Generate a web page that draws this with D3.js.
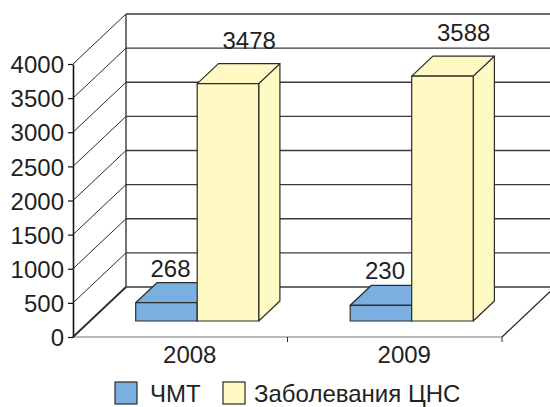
<!DOCTYPE html>
<html>
<head>
<meta charset="utf-8">
<script src="https://cdn.jsdelivr.net/npm/d3@7"></script>
<style>
  html, body { margin: 0; padding: 0; background: #fff; }
  svg { display: block; font-family: "Liberation Sans", Arial, sans-serif; }
</style>
</head>
<body>
<svg id="chart" width="550" height="407"></svg>
<script>
// Data
const categories = ["2008", "2009"];
const seriesNames = ["ЧМТ", "Заболевания ЦНС"];
const chmtValues = [268, 230];
const cnsValues = [3478, 3588];
const yTickValues = [0, 500, 1000, 1500, 2000, 2500, 3000, 3500, 4000];

const seriesColors = { "ЧМТ": "#7aafdf", "Заболевания ЦНС": "#fff9c4" };
const seriesLabelLift = { "ЧМТ": 6, "Заболевания ЦНС": 15 };

const svg = d3.select("#chart");
const FS = 24;

// 3D box geometry: front plane of the floor and how far the back wall is pushed
const DX = 53, DY = 50;          // full depth offset
const barFront = 0.32;           // where bars start inside the depth
const barDepth = 0.4;            // how deep each bar is

const y = d3.scaleLinear().domain([0, 4000]).range([337, 64]);
const x = d3.scaleBand().domain(categories).range([73, 502]).padding(0);
const sub = d3.scaleBand().domain(seriesNames).range([0, x.bandwidth()])
  .paddingInner(0).paddingOuter(0.744);

const ink = "#2b2b2b";

// Walls and gridlines
const walls = svg.append("g");
// back wall horizontal gridlines
walls.selectAll("line.grid").data(yTickValues).join("line")
  .attr("x1", 73 + DX).attr("x2", 502 + DX + 10)
  .attr("y1", d => y(d) - DY).attr("y2", d => y(d) - DY)
  .attr("stroke", "#3a3a3a").attr("stroke-width", 1.3);
// left wall diagonals
walls.selectAll("line.diag").data(yTickValues).join("line")
  .attr("x1", 73).attr("y1", d => y(d))
  .attr("x2", 73 + DX).attr("y2", d => y(d) - DY)
  .attr("stroke", ink).attr("stroke-width", d => d === 0 ? 1.8 : 1);
// back wall left edge
walls.append("line")
  .attr("x1", 73 + DX).attr("x2", 73 + DX)
  .attr("y1", y(0) - DY).attr("y2", y(4000) - DY)
  .attr("stroke", ink).attr("stroke-width", 1.3);
// floor front edge
walls.append("line")
  .attr("x1", 73).attr("x2", 502).attr("y1", y(0)).attr("y2", y(0))
  .attr("stroke", "#777").attr("stroke-width", 1.2);
// floor right edge
walls.append("line")
  .attr("x1", 502).attr("y1", y(0)).attr("x2", 502 + DX).attr("y2", y(0) - DY)
  .attr("stroke", ink).attr("stroke-width", 1.3);
// category ticks at band boundaries
const bounds = categories.map(c => x(c) + x.bandwidth());
walls.selectAll("line.ctick").data(bounds).join("line")
  .attr("x1", d => d).attr("x2", d => d)
  .attr("y1", y(0)).attr("y2", y(0) + 5)
  .attr("stroke", ink).attr("stroke-width", 1);

// Y axis
const yAxis = svg.append("g").attr("transform", "translate(73,0)")
  .call(d3.axisLeft(y).tickValues(yTickValues).tickSize(5).tickSizeOuter(0).tickPadding(4).tickFormat(d3.format("d")));
yAxis.select(".domain").attr("stroke", "#111").attr("stroke-width", 1.6);
yAxis.selectAll(".tick line").attr("stroke", "#111").attr("stroke-width", 1.2);
yAxis.selectAll(".tick text").attr("font-size", FS).attr("fill", "#231f20")
  .attr("font-family", "'Liberation Sans', Arial, sans-serif").attr("dy", "0.36em");

// X axis labels
const xAxis = svg.append("g").attr("transform", `translate(${barFront * DX / 2 + 1},${y(0)})`)
  .call(d3.axisBottom(x).tickSize(0).tickPadding(9));
xAxis.select(".domain").remove();
xAxis.selectAll(".tick text").attr("font-size", FS).attr("fill", "#231f20")
  .attr("font-family", "'Liberation Sans', Arial, sans-serif").attr("dy", "0.72em");

// Bars
const bars = [];
categories.forEach((c, i) => {
  bars.push({ cat: c, series: seriesNames[0], value: chmtValues[i] });
  bars.push({ cat: c, series: seriesNames[1], value: cnsValues[i] });
});

const bdx = barDepth * DX, bdy = barDepth * DY;
const barG = svg.append("g");
bars.forEach(b => {
  const x0 = x(b.cat) + sub(b.series) + barFront * DX;
  const w = sub.bandwidth();
  const yb = y(0) - barFront * DY;
  const yt = yb - (y(0) - y(b.value));
  const fill = seriesColors[b.series];
  const g = barG.append("g").attr("stroke", ink).attr("stroke-width", 1.2)
    .attr("stroke-linejoin", "round").attr("fill", fill);
  // side face
  g.append("path").attr("d",
    `M${x0 + w},${yb} L${x0 + w + bdx},${yb - bdy} L${x0 + w + bdx},${yt - bdy} L${x0 + w},${yt} Z`);
  // top face
  g.append("path").attr("d",
    `M${x0},${yt} L${x0 + bdx},${yt - bdy} L${x0 + w + bdx},${yt - bdy} L${x0 + w},${yt} Z`);
  // front face
  g.append("rect").attr("x", x0).attr("y", yt).attr("width", w).attr("height", yb - yt);
  b.frontCx = x0 + w / 2;
  b.backCx = x0 + w / 2 + bdx;
  b.backTop = yt - bdy;
});

// Value labels
svg.append("g").selectAll("text").data(bars).join("text")
  .attr("x", d => d.series === seriesNames[0] ? d.frontCx + 4 : d.backCx)
  .attr("y", d => d.backTop - seriesLabelLift[d.series])
  .attr("text-anchor", "middle").attr("font-size", FS).attr("fill", "#231f20")
  .text(d => d.value);

// Legend
const legend = svg.append("g");
const legendItems = [
  { name: seriesNames[0], sx: 115, tx: 150 },
  { name: seriesNames[1], sx: 223, tx: 254 }
];
legendItems.forEach(it => {
  legend.append("rect").attr("x", it.sx).attr("y", 382).attr("width", 22).attr("height", 22)
    .attr("fill", seriesColors[it.name]).attr("stroke", ink).attr("stroke-width", 1.2);
  legend.append("text").attr("x", it.tx).attr("y", 402).attr("font-size", FS)
    .attr("fill", "#231f20").text(it.name);
});
</script>
</body>
</html>
